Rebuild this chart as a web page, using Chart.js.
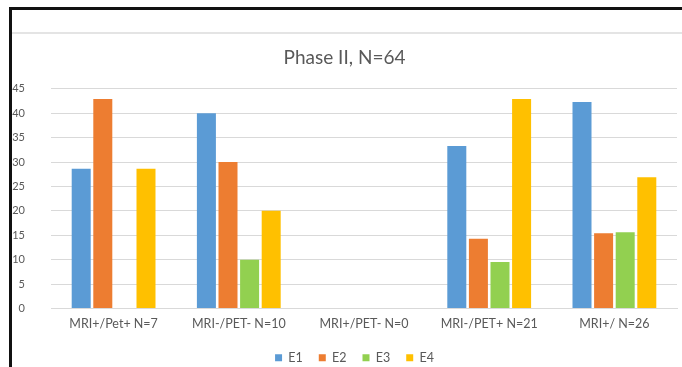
<!DOCTYPE html>
<html>
<head>
<meta charset="utf-8">
<script src="https://cdn.jsdelivr.net/npm/chart.js@4.4.0/dist/chart.umd.min.js"></script>
<style>
  body { margin: 0; background: #fff; }
  #wrap { position: relative; width: 682px; height: 367px; }
  #topline { position: absolute; left: 9px; top: 7px; width: 673px; height: 3px; background: #111; }
  #leftline { position: absolute; left: 9px; top: 7px; width: 3px; height: 360px; background: #111; }
  #grayline { position: absolute; left: 12px; top: 32px; width: 670px; height: 2px; background: #e4e4e4; }
</style>
</head>
<body>
<div id="wrap">
  <canvas id="chart" width="682" height="367"></canvas>
  <div id="topline"></div>
  <div id="leftline"></div>
  <div id="grayline"></div>
</div>
<script>
const labels = ['MRI+/Pet+ N=7', 'MRI-/PET- N=10', 'MRI+/PET- N=0', 'MRI-/PET+ N=21', 'MRI+/ N=26']
const e1 = [28.6, 40, 0, 33.3, 42.3]
const e2 = [42.9, 30, 0, 14.3, 15.4]
const e3 = [0, 10, 0, 9.5, 15.6]
const e4 = [28.6, 20, 0, 42.9, 26.9]
const yTicks = [0, 5, 10, 15, 20, 25, 30, 35, 40, 45]

const textColor = '#595959'
const font = 'Lato, "Open Sans", sans-serif'

function ds(label, data, color) {
  return {
    label: label,
    data: data,
    backgroundColor: color,
    borderWidth: 0,
    categoryPercentage: 0.69,
    barPercentage: 0.88
  }
}

// nudge the legend a little to the right, like in the original
const legendShift = {
  id: 'legendShift',
  afterLayout(chart) {
    chart.legend.left += 10
    chart.legend.right += 10
  }
}

const ctx = document.getElementById('chart')
const chart = new Chart(ctx, {
  type: 'bar',
  data: {
    labels: labels,
    datasets: [
      ds('E1', e1, '#5b9bd5'),
      ds('E2', e2, '#ed7d31'),
      ds('E3', e3, '#92d050'),
      ds('E4', e4, '#ffc000')
    ]
  },
  options: {
    responsive: false,
    animation: false,
    layout: { padding: { left: 12, right: 5, top: 38, bottom: -7 } },
    plugins: {
      title: {
        display: true,
        text: 'Phase II, N=64',
        color: textColor,
        font: { family: font, size: 19, weight: 'normal' },
        padding: { top: 8, bottom: 20 }
      },
      legend: {
        position: 'bottom',
        labels: {
          color: textColor,
          font: { family: font, size: 12.5 },
          boxWidth: 7,
          boxHeight: 7,
          padding: 16
        }
      },
      tooltip: { enabled: false }
    },
    scales: {
      x: {
        afterFit: (axis) => { axis.height += 4 },
        grid: { display: false },
        border: { color: '#d9d9d9' },
        ticks: { color: textColor, font: { family: font, size: 12.5 }, maxRotation: 0, padding: 0 }
      },
      y: {
        min: 0,
        max: 45,
        afterBuildTicks: (axis) => { axis.ticks = yTicks.map(v => ({ value: v })) },
        afterFit: (axis) => { axis.width = 39 },
        grid: { color: '#d9d9d9', drawTicks: false },
        border: { display: false },
        ticks: { color: textColor, font: { family: font, size: 11 }, padding: 26 }
      }
    }
  },
  plugins: [legendShift]
})
</script>
</body>
</html>
